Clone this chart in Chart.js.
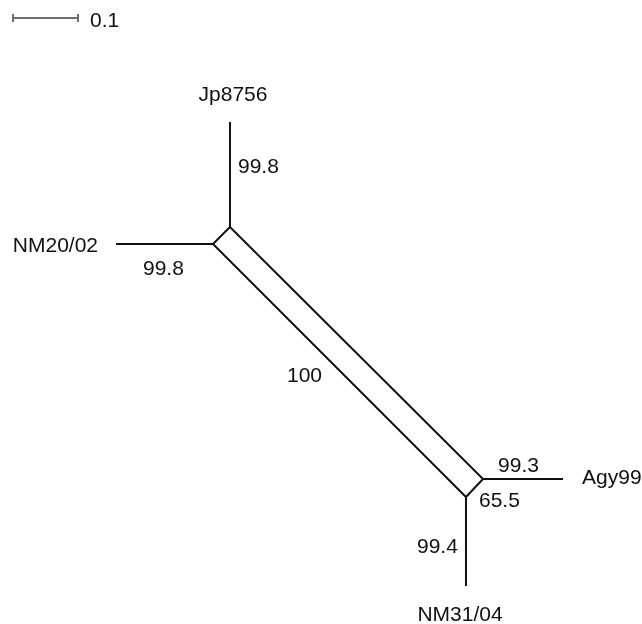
<!DOCTYPE html>
<html>
<head>
<meta charset="utf-8">
<script src="https://cdn.jsdelivr.net/npm/chart.js@4/dist/chart.umd.min.js"></script>
<style>
  html, body { margin: 0; padding: 0; background: #ffffff; }
  #wrap { width: 642px; height: 624px; }
</style>
</head>
<body>
<div id="wrap"><canvas id="c" width="642" height="624"></canvas></div>
<script>
// ---- DATA (tree-distance units) ----
const taxa = ['Jp8756', 'NM20/02', 'Agy99', 'NM31/04'];
const tipX = [0.3538, 0.1785, 0.8662, 0.7169];
const tipY = [0.1877, 0.3754, 0.7369, 0.9015];
// internal node each taxon attaches to
const nodeX = [0.3538, 0.3277, 0.7431, 0.7169];
const nodeY = [0.3492, 0.3754, 0.7369, 0.7646];
const pendantSupport = ['99.8', '99.8', '99.3', '99.4'];
const splitSupport = ['100', '65.5'];
const scaleBarLength = 0.1;
const scaleBarLabel = '0.1';

// ---- LAYOUT / STYLE ----
const PX_PER_UNIT = 650;
const W = 642, H = 624;
const FONT = '21px "Liberation Sans", Arial, Helvetica, sans-serif';
const scaleBarPos = { x: 0.02, y: 0.0277 };
const boxOrder = [0, 1, 3, 2, 0];
// taxon label offsets from tip (px), alignment
const taxonLabelLayout = [
  { dx: 3, dy: -21, align: 'center' },
  { dx: -18, dy: 8, align: 'right' },
  { dx: 19, dy: 5, align: 'left' },
  { dx: -6, dy: 35, align: 'center' }
];
// pendant support offsets from edge midpoint (px), left aligned
const pendantLabelLayout = [
  { dx: 8, dy: -1.5 },
  { dx: -21.5, dy: 31 },
  { dx: -25, dy: -7 },
  { dx: -49, dy: 11.5 }
];

const datasets = [];
// network box (split edges)
datasets.push({
  data: boxOrder.map(i => ({ x: nodeX[i], y: nodeY[i] })),
  showLine: true, borderColor: '#111', borderWidth: 2, pointRadius: 0,
  borderJoinStyle: 'miter', borderCapStyle: 'butt', tension: 0
});
// pendant edges
taxa.forEach((t, i) => {
  datasets.push({
    data: [{ x: nodeX[i], y: nodeY[i] }, { x: tipX[i], y: tipY[i] }],
    showLine: true, borderColor: '#111', borderWidth: 2, pointRadius: 0,
    borderCapStyle: 'butt', tension: 0
  });
});
// scale bar
datasets.push({
  data: [{ x: scaleBarPos.x, y: scaleBarPos.y }, { x: scaleBarPos.x + scaleBarLength, y: scaleBarPos.y }],
  showLine: true, borderColor: '#6e6e6e', borderWidth: 2,
  pointStyle: 'line', pointRadius: 4, pointRotation: 90, pointHoverRadius: 4,
  pointBorderColor: '#6e6e6e', pointBorderWidth: 2, pointBackgroundColor: '#6e6e6e'
});

const labelPlugin = {
  id: 'treeLabels',
  afterDatasetsDraw(chart) {
    const ctx = chart.ctx;
    const xs = chart.scales.x, ys = chart.scales.y;
    const px = v => xs.getPixelForValue(v);
    const py = v => ys.getPixelForValue(v);
    ctx.save();
    ctx.font = FONT;
    ctx.fillStyle = '#111';
    ctx.textBaseline = 'alphabetic';
    // taxon labels
    taxa.forEach((t, i) => {
      const L = taxonLabelLayout[i];
      ctx.textAlign = L.align;
      ctx.fillText(t, px(tipX[i]) + L.dx, py(tipY[i]) + L.dy);
    });
    // pendant supports
    ctx.textAlign = 'left';
    pendantSupport.forEach((s, i) => {
      const L = pendantLabelLayout[i];
      const mx = (px(tipX[i]) + px(nodeX[i])) / 2;
      const my = (py(tipY[i]) + py(nodeY[i])) / 2;
      ctx.fillText(s, mx + L.dx, my + L.dy);
    });
    // long split (NM20 node -> NM31 node)
    {
      const mx = (px(nodeX[1]) + px(nodeX[3])) / 2;
      const my = (py(nodeY[1]) + py(nodeY[3])) / 2;
      ctx.fillText(splitSupport[0], mx - 52.5, my + 11.5);
    }
    // short split at bottom (Agy99 node - NM31 node)
    {
      const mx = (px(nodeX[2]) + px(nodeX[3])) / 2;
      const my = (py(nodeY[2]) + py(nodeY[3])) / 2;
      ctx.fillText(splitSupport[1], mx + 4.5, my + 19);
    }
    // scale bar label
    ctx.fillText(scaleBarLabel, px(scaleBarPos.x + scaleBarLength) + 12, py(scaleBarPos.y) + 9);
    ctx.restore();
  }
};

new Chart(document.getElementById('c'), {
  type: 'scatter',
  data: { datasets },
  options: {
    responsive: false,
    devicePixelRatio: 1,
    animation: false,
    events: [],
    layout: { padding: 0, autoPadding: false },
    scales: {
      x: { type: 'linear', display: false, min: 0, max: W / PX_PER_UNIT },
      y: { type: 'linear', display: false, min: 0, max: H / PX_PER_UNIT, reverse: true }
    },
    plugins: { legend: { display: false }, tooltip: { enabled: false } },
    elements: { line: { tension: 0 } }
  },
  plugins: [labelPlugin]
});
</script>
</body>
</html>
